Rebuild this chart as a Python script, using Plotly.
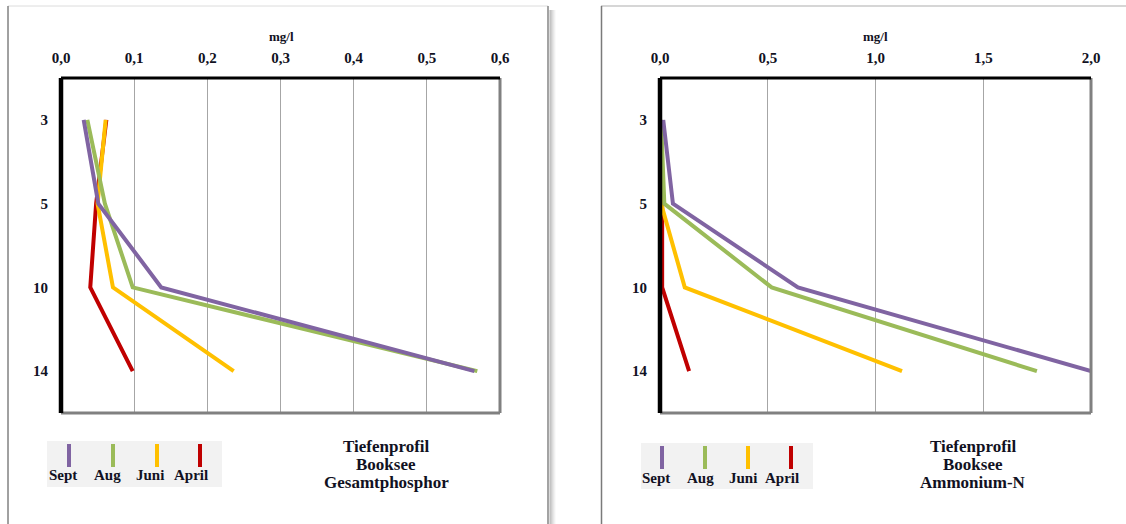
import plotly.graph_objects as go

# Depth profile of Booksee: total phosphorus and ammonium nitrogen (mg/l)
depths = ["3", "5", "10", "14"]
months = ["Sept", "Aug", "Juni", "April"]
colors = {"Sept": "#8064A2", "Aug": "#9BBB59", "Juni": "#FFC000", "April": "#C00000"}

phos_sept = [0.031, 0.051, 0.137, 0.565]
phos_aug = [0.036, 0.060, 0.098, 0.569]
phos_juni = [0.061, 0.050, 0.071, 0.236]
phos_april = [0.062, 0.048, 0.040, 0.098]

nh4_sept = [0.015, 0.060, 0.640, 2.000]
nh4_aug = [0.005, 0.020, 0.518, 1.749]
nh4_juni = [0.000, 0.005, 0.115, 1.123]
nh4_april = [0.000, 0.010, 0.010, 0.135]

phos = {"Sept": phos_sept, "Aug": phos_aug, "Juni": phos_juni, "April": phos_april}
nh4 = {"Sept": nh4_sept, "Aug": nh4_aug, "Juni": nh4_juni, "April": nh4_april}

phos_ticks = [0.0, 0.1, 0.2, 0.3, 0.4, 0.5, 0.6]
nh4_ticks = [0.0, 0.5, 1.0, 1.5, 2.0]

W, H = 1126, 524
FONT = "Liberation Serif"
TXT = "#111122"


def px(x):
    return x / W


def py(y):
    return 1 - y / H


fig = go.Figure()

# Draw order: April at the bottom, Sept on top
for name in ["April", "Juni", "Aug", "Sept"]:
    fig.add_trace(go.Scatter(x=phos[name], y=depths, mode="lines", name=name,
                             line=dict(color=colors[name], width=4),
                             xaxis="x", yaxis="y", showlegend=False))
    fig.add_trace(go.Scatter(x=nh4[name], y=depths, mode="lines", name=name,
                             line=dict(color=colors[name], width=4),
                             xaxis="x2", yaxis="y2", showlegend=False))

plot_top, plot_bot = 78, 413
dom_y = [py(plot_bot), py(plot_top)]

xcommon = dict(side="top", showgrid=True, gridcolor="#a6a6a6", gridwidth=1,
               zeroline=False, showline=False, ticks="", automargin=False,
               tickfont=dict(family=FONT, size=15, color=TXT),
               ticklabelstandoff=11)
ycommon = dict(type="category", categoryorder="array", categoryarray=depths,
               range=[3.5, -0.5], showgrid=False, zeroline=False, showline=False,
               ticks="", automargin=False,
               tickvals=depths, ticktext=[f"<b>{d}</b>" for d in depths],
               tickfont=dict(family=FONT, size=15, color=TXT),
               ticklabelstandoff=12)


def comma(v):
    return "<b>" + f"{v:.1f}".replace(".", ",") + "</b>"


fig.update_layout(
    width=W, height=H, margin=dict(l=0, r=0, t=0, b=0, autoexpand=False),
    paper_bgcolor="white", plot_bgcolor="white",
    xaxis=dict(domain=[px(61), px(500)], range=[0, 0.6], anchor="y",
               tickvals=phos_ticks, ticktext=[comma(v) for v in phos_ticks], **xcommon),
    yaxis=dict(domain=dom_y, anchor="x", **ycommon),
    xaxis2=dict(domain=[px(660), px(1091)], range=[0, 2.0], anchor="y2",
                tickvals=nh4_ticks, ticktext=[comma(v) for v in nh4_ticks], **xcommon),
    yaxis2=dict(domain=dom_y, anchor="x2", **ycommon),
)

shapes = []

# Panel frames
shapes.append(dict(type="rect", xref="paper", yref="paper",
                   x0=px(8), x1=px(548), y0=py(530), y1=py(6),
                   line=dict(color="#dcdcdc", width=1), fillcolor="rgba(0,0,0,0)", layer="below"))
shapes.append(dict(type="line", xref="paper", yref="paper",
                   x0=px(8), x1=px(8), y0=py(530), y1=py(6),
                   line=dict(color="#555555", width=1)))
shapes.append(dict(type="line", xref="paper", yref="paper",
                   x0=px(548), x1=px(548), y0=py(530), y1=py(6),
                   line=dict(color="#8a8a8a", width=1.5)))
for i, a in enumerate([0.45, 0.35, 0.26, 0.18, 0.11, 0.06]):
    shapes.append(dict(type="line", xref="paper", yref="paper",
                       x0=px(550 + i), x1=px(550 + i), y0=py(530), y1=py(10),
                       line=dict(color=f"rgba(90,90,90,{a})", width=1)))
shapes.append(dict(type="line", xref="paper", yref="paper",
                   x0=px(601), x1=px(1130), y0=py(6), y1=py(6),
                   line=dict(color="#c8c8c8", width=1.5)))
shapes.append(dict(type="line", xref="paper", yref="paper",
                   x0=px(601.5), x1=px(601.5), y0=py(530), y1=py(6),
                   line=dict(color="#7a7a7a", width=1.5)))

# Plot area borders: dark left/top, grey right/bottom
for xa, ya in [("x", "y"), ("x2", "y2")]:
    xd, yd = f"{xa} domain", f"{ya} domain"
    shapes.append(dict(type="line", xref=xd, yref=yd, x0=1, x1=1, y0=0, y1=1,
                       line=dict(color="#808080", width=3)))
    shapes.append(dict(type="line", xref=xd, yref=yd, x0=0, x1=1, y0=0, y1=0,
                       line=dict(color="#808080", width=3)))
    shapes.append(dict(type="line", xref=xd, yref=yd, x0=0, x1=1, y0=1, y1=1,
                       line=dict(color="black", width=3)))
    shapes.append(dict(type="line", xref=xd, yref=yd, x0=0, x1=0, y0=0, y1=1,
                       line=dict(color="black", width=4.5)))

annotations = []


def label(x, y, text, size):
    return dict(x=px(x), y=py(y), xref="paper", yref="paper",
                xanchor="center", yanchor="middle",
                text=f"<b>{text}</b>", showarrow=False,
                font=dict(family=FONT, size=size, color=TXT))


# Axis unit labels
for cx in (281, 875):
    annotations.append(label(cx, 37, "mg/l", 13))

# Custom legends: short vertical strokes above the month names
legend_specs = [
    dict(box=(47, 441, 222, 487), marks=[69, 113, 157, 200],
         labels=[63, 107, 150, 191], mark_y=(444, 467), text_y=475),
    dict(box=(641, 443, 813, 489), marks=[662, 705, 748, 791],
         labels=[656, 700, 743, 782], mark_y=(446, 469), text_y=478),
]
for spec in legend_specs:
    x0, y0, x1, y1 = spec["box"]
    shapes.append(dict(type="rect", xref="paper", yref="paper",
                       x0=px(x0), x1=px(x1), y0=py(y1), y1=py(y0),
                       line=dict(width=0), fillcolor="#f2f2f2", layer="below"))
    for name, mx in zip(months, spec["marks"]):
        shapes.append(dict(type="line", xref="paper", yref="paper",
                           x0=px(mx), x1=px(mx), y0=py(spec["mark_y"][1]), y1=py(spec["mark_y"][0]),
                           line=dict(color=colors[name], width=4)))
    for name, lx in zip(months, spec["labels"]):
        annotations.append(label(lx, spec["text_y"], name, 15))

# Chart captions
captions = [(386, "Gesamtphosphor"), (973, "Ammonium-N")]
for cx, sub in captions:
    for i, line in enumerate(["Tiefenprofil", "Booksee", sub]):
        annotations.append(label(cx, 446 + 18 * i, line, 17))

fig.update_layout(shapes=shapes, annotations=annotations)

fig.write_html("out.html")
